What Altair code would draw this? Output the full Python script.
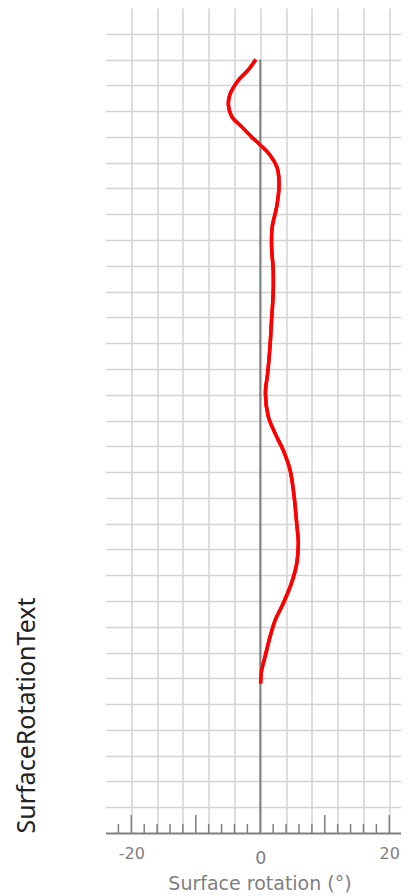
import altair as alt
import pandas as pd

# Data
depth = [2.0, 2.4, 2.8, 3.35, 3.75, 4.2, 4.6, 5.0, 5.3, 5.7, 6.15, 6.4, 6.95, 7.7,
         8.5, 9.25, 10.15, 11.05, 12.1, 13.15, 14.15, 14.95, 15.85, 16.5, 17.15,
         17.9, 18.95, 20.0, 20.75, 21.55, 22.3, 23.1, 23.75, 24.4, 25.15, 25.7, 26.2]
rotation = [-0.7, -1.85, -3.4, -4.7, -4.95, -4.45, -2.9, -1.35, -0.05, 1.5, 2.55, 2.8,
            2.9, 2.55, 1.85, 1.75, 2.0, 2.0, 1.75, 1.5, 1.15, 0.8, 1.25, 2.3, 3.55,
            4.6, 5.25, 5.65, 5.9, 5.65, 4.85, 3.55, 2.3, 1.5, 0.75, 0.2, 0.05]

grid_x = list(range(-20, 21, 4))
grid_y = list(range(1, 32))
minor_ticks = [-22, -18, -16, -14, -12, -8, -6, -4, -2, 2, 4, 6, 8, 12, 14, 16, 18, 22]
major_ticks = [-20, -10, 10, 20]
x_domain = [-24, 21.74]
y_domain = [0, 32]
zero_top = [2]
zero_bottom = [32]

W, H = 295, 825
GRAY = "#808080"
GRID = "#d3d3d3"

df = pd.DataFrame({"rotation": rotation, "depth": depth, "idx": list(range(len(depth)))})

xscale = alt.Scale(domain=x_domain, nice=False, zero=False)
yscale = alt.Scale(domain=y_domain, reverse=True, nice=False, zero=False)

x_axis = alt.Axis(
    values=grid_x, tickCount=200,
    labelExpr="datum.value % 20 == 0 ? '' + datum.value : ''",
    grid=True, gridColor=GRID, gridWidth=1.5,
    ticks=False,
    domain=True, domainColor=GRAY, domainWidth=2,
    labelColor=GRAY, labelFont="DejaVu Sans",
    labelFontSize={"condition": {"test": "datum.value == 0", "value": 17.5}, "value": 16},
    labelPadding={"condition": {"test": "datum.value == 0", "value": 16}, "value": 12},
    title="Surface rotation (°)", titleColor=GRAY, titleFont="DejaVu Sans",
    titleFontSize=19, titleFontWeight="normal", titlePadding=8,
    titleX=154, titleAlign="center",
)
y_axis = alt.Axis(
    values=grid_y, tickCount=200, grid=True, gridColor=GRID, gridWidth=1.5,
    labels=False, ticks=False, domain=False,
    title="SurfaceRotationText", titleAnchor="end", titleAlign="left", titleY=H,
    titleColor="#222222",
    titleFont="Noto Sans", titleFontSize=25, titleFontWeight="normal",
    titlePadding=66,
)

line = alt.Chart(df).mark_line(color="#ff0000", strokeWidth=3.5, interpolate="catmull-rom").encode(
    x=alt.X("rotation:Q", scale=xscale, axis=x_axis),
    y=alt.Y("depth:Q", scale=yscale, axis=y_axis),
    order=alt.Order("idx:Q"),
)

zero_df = pd.DataFrame({"rotation": [0], "depth": zero_top, "depth2": zero_bottom})
zero = alt.Chart(zero_df).mark_rule(color=GRAY, strokeWidth=2).encode(
    x=alt.X("rotation:Q", scale=xscale),
    y=alt.Y("depth:Q", scale=yscale),
    y2="depth2:Q",
)

minor = alt.Chart(pd.DataFrame({"rotation": minor_ticks})).mark_rule(
    color=GRAY, strokeWidth=1.5, clip=True).encode(
    x=alt.X("rotation:Q", scale=xscale),
    y=alt.value(H), y2=alt.value(H - 9),
)
major = alt.Chart(pd.DataFrame({"rotation": major_ticks})).mark_rule(
    color=GRAY, strokeWidth=1.5, clip=True).encode(
    x=alt.X("rotation:Q", scale=xscale),
    y=alt.value(H), y2=alt.value(H - 18),
)

chart = alt.layer(line, zero, minor, major, line).properties(
    width=W, height=H,
    padding={"left": 6.5, "top": 0, "right": 0, "bottom": 0},
).configure_view(stroke=None)

chart.save("out.html", embed_options={"renderer": "svg", "actions": False})
